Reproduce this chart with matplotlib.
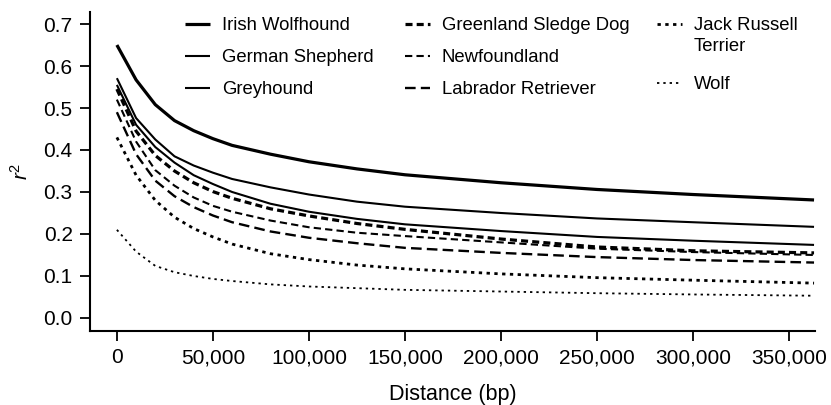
import matplotlib
matplotlib.use("Agg")
import matplotlib.pyplot as plt
from matplotlib.ticker import FuncFormatter

plt.rcParams['font.family'] = ['Liberation Sans', 'DejaVu Sans']
plt.rcParams['mathtext.fontset'] = 'custom'
plt.rcParams['mathtext.rm'] = 'Liberation Sans'
plt.rcParams['mathtext.it'] = 'Liberation Sans:italic'

distance = [0, 10000, 20000, 30000, 40000, 50000, 60000, 80000, 100000,
            125000, 150000, 200000, 250000, 300000, 363000]

irish_wolfhound = [0.650, 0.567, 0.508, 0.470, 0.446, 0.427, 0.411, 0.390, 0.372,
                   0.355, 0.341, 0.322, 0.306, 0.294, 0.281]
german_shepherd = [0.571, 0.476, 0.425, 0.385, 0.363, 0.346, 0.331, 0.311, 0.294,
                   0.277, 0.265, 0.250, 0.237, 0.228, 0.217]
greyhound = [0.555, 0.460, 0.407, 0.370, 0.340, 0.319, 0.300, 0.272, 0.253,
             0.236, 0.223, 0.207, 0.193, 0.184, 0.174]
greenland_sledge_dog = [0.545, 0.445, 0.387, 0.350, 0.322, 0.301, 0.285, 0.260, 0.243,
                        0.225, 0.211, 0.188, 0.169, 0.160, 0.155]
newfoundland = [0.520, 0.420, 0.352, 0.315, 0.287, 0.267, 0.253, 0.232, 0.216,
                0.203, 0.195, 0.180, 0.165, 0.157, 0.150]
labrador_retriever = [0.490, 0.390, 0.327, 0.290, 0.264, 0.244, 0.228, 0.206, 0.191,
                      0.178, 0.167, 0.155, 0.145, 0.138, 0.132]
jack_russell_terrier = [0.430, 0.340, 0.280, 0.240, 0.213, 0.193, 0.176, 0.153, 0.139,
                        0.126, 0.117, 0.105, 0.096, 0.090, 0.083]
wolf = [0.210, 0.158, 0.124, 0.109, 0.100, 0.093, 0.088, 0.080, 0.075,
        0.071, 0.067, 0.063, 0.059, 0.056, 0.053]

x_ticks = [0, 50000, 100000, 150000, 200000, 250000, 300000, 350000]
y_ticks = [0.0, 0.1, 0.2, 0.3, 0.4, 0.5, 0.6, 0.7]

W, H = 831, 405
fig = plt.figure(figsize=(W / 100, H / 100), dpi=100)
ax = fig.add_axes([90 / W, 1 - 331 / H, (815 - 90) / W, (331 - 12) / H])

styles = {
    'Irish Wolfhound': dict(lw=2.3, ls='-'),
    'German Shepherd': dict(lw=1.5, ls='-'),
    'Greyhound': dict(lw=1.5, ls='-'),
    'Greenland Sledge Dog': dict(lw=2.3, ls=(0, (2.2, 1.3))),
    'Newfoundland': dict(lw=1.5, ls=(0, (3.5, 2))),
    'Labrador Retriever': dict(lw=1.7, ls=(0, (4.5, 2.2))),
    'Jack Russell': dict(lw=2.0, ls=(0, (1.2, 1.6))),
    'Wolf': dict(lw=1.3, ls=(0, (1.3, 2.2))),
}
series = {
    'Irish Wolfhound': irish_wolfhound,
    'German Shepherd': german_shepherd,
    'Greyhound': greyhound,
    'Greenland Sledge Dog': greenland_sledge_dog,
    'Newfoundland': newfoundland,
    'Labrador Retriever': labrador_retriever,
    'Jack Russell': jack_russell_terrier,
    'Wolf': wolf,
}
handles = {}
for name, vals in series.items():
    (ln,) = ax.plot(distance, vals, color='black', **styles[name], label=name,
                    solid_capstyle='butt', dash_capstyle='butt')
    handles[name] = ln

ax.set_xlim(-14000, 363500)
ax.set_ylim(-0.031, 0.7286)
ax.set_xticks(x_ticks)
ax.set_yticks(y_ticks)
ax.xaxis.set_major_formatter(FuncFormatter(lambda v, p: f"{int(v):,}"))
ax.yaxis.set_major_formatter(FuncFormatter(lambda v, p: f"{v:.1f}"))
for s in ['top', 'right']:
    ax.spines[s].set_visible(False)
for s in ['left', 'bottom']:
    ax.spines[s].set_linewidth(1.5)
ax.tick_params(direction='out', length=7.5, width=1.3, labelsize=15, colors='black')
ax.tick_params(axis='x', pad=5)
ax.tick_params(axis='y', pad=5)
ax.set_xlabel('Distance (bp)', fontsize=15.5, labelpad=12)
ax.set_ylabel(r'$r^2$', fontsize=15, labelpad=8)

LFS = 13.3
cols = [
    (['Irish Wolfhound', 'German Shepherd', 'Greyhound'], 185, 0.82),
    (['Greenland Sledge Dog', 'Newfoundland', 'Labrador Retriever'], 405, 0.82),
    (['Jack Russell', 'Wolf'], 657, 2.3),
]
legs = []
for i, (names, xpix, sp) in enumerate(cols):
    leg = ax.legend([handles[n] for n in names], names, loc='upper left',
                    bbox_to_anchor=(xpix / W, 1 - 17 / H), bbox_transform=fig.transFigure,
                    frameon=False, fontsize=LFS, handlelength=1.35, handletextpad=0.65,
                    labelspacing=sp, borderpad=0, borderaxespad=0)
    if i < len(cols) - 1:
        ax.add_artist(leg)
    legs.append(leg)

# second line of the two-line label "Jack Russell / Terrier"
fig.canvas.draw()
jr_text = legs[2].get_texts()[0]
bb = jr_text.get_window_extent()
fig.text(bb.x0 / W, (bb.y0 - 21) / H, 'Terrier', fontsize=LFS, ha='left', va='bottom')

fig.savefig('out.png', dpi=100)
